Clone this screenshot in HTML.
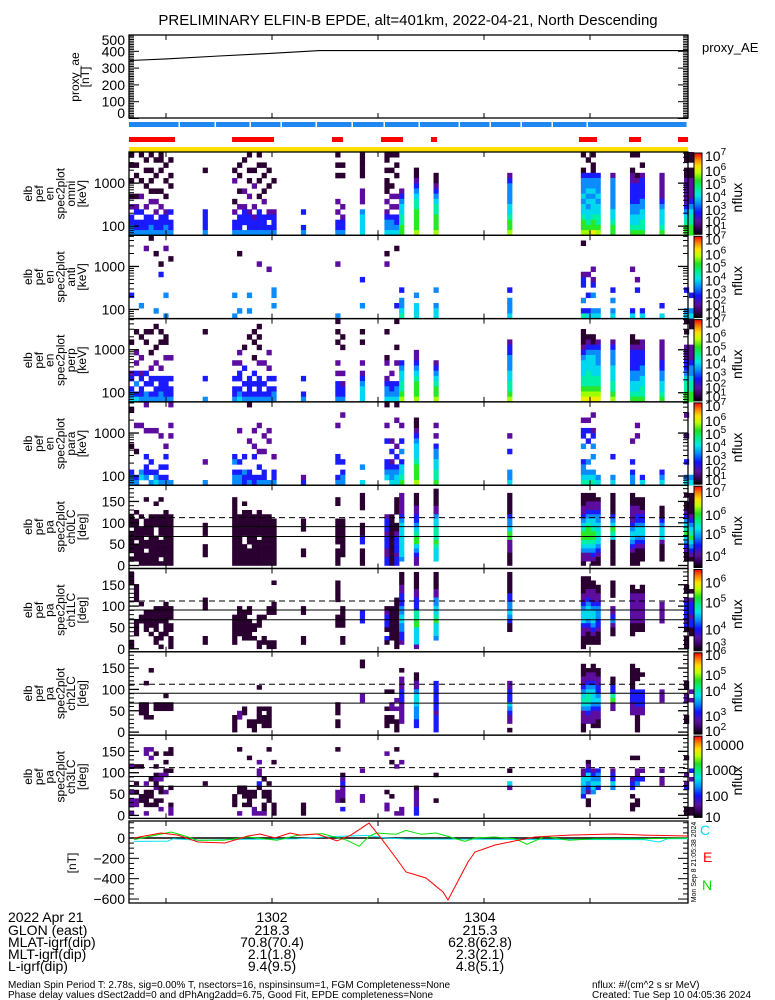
<!DOCTYPE html>
<html>
<head>
<meta charset="utf-8">
<style>
html,body{margin:0;padding:0;background:#fff;}
svg{display:block;}
text{font-family:"Liberation Sans",sans-serif;}
</style>
</head>
<body>
<svg id="chart" width="775" height="1000" viewBox="0 0 775 1000" xmlns="http://www.w3.org/2000/svg">
<defs>
<linearGradient id="cbar" x1="0" y1="1" x2="0" y2="0">
<stop offset="0" stop-color="#000000"/>
<stop offset="0.08" stop-color="#3a0060"/>
<stop offset="0.16" stop-color="#5a10a0"/>
<stop offset="0.27" stop-color="#1010ff"/>
<stop offset="0.38" stop-color="#0090ff"/>
<stop offset="0.48" stop-color="#00e8e8"/>
<stop offset="0.58" stop-color="#00f080"/>
<stop offset="0.66" stop-color="#20e020"/>
<stop offset="0.76" stop-color="#c0ff00"/>
<stop offset="0.84" stop-color="#ffe000"/>
<stop offset="0.92" stop-color="#ff8000"/>
<stop offset="1" stop-color="#ff0000"/>
</linearGradient>
</defs>
<text x="408" y="25" font-size="15" text-anchor="middle" fill="#000">PRELIMINARY ELFIN-B EPDE, alt=401km, 2022-04-21, North Descending</text>
</svg>
<script>
// ---------- data ----------
const aeTimes = [0.66, 1.0, 1.5, 2.0, 2.45, 5.93];
const aeValues = [345, 355, 372, 388, 404, 404];
const aeTicks = [0, 100, 200, 300, 400, 500];

const blueBarEdges = [0.651,1.132,1.472,1.802,2.094,2.425,2.764,3.066,3.396,3.774,4.066,4.358,4.651,4.981,5.925];
const redBarStarts = [0.651,1.623,2.566,3.028,3.500,4.896,5.368,5.830];
const redBarEnds = [1.085,2.019,2.670,3.236,3.557,5.066,5.481,5.925];

const timeTicks = [1,2,3,4,5];
const timeLabels = ["1302","1304"];
const timeLabelTimes = [2,4];

const magTicks = [0,-200,-400,-600];
const magETimes = [0.698,0.953,1.113,1.302,1.557,1.774,1.887,2.028,2.170,2.264,2.425,2.613,2.745,2.915,3.028,3.170,3.264,3.453,3.613,3.660,3.849,3.915,4.104,4.292,4.481,4.802,5.226,5.509,5.925];
const magEValues = [0,49,29,-39,-49,20,39,0,49,29,39,-29,29,147,0,-197,-334,-393,-531,-610,-236,-138,-69,-29,10,29,39,29,20];
const magNTimes = [0.698,1.047,1.160,1.302,1.538,1.774,2.047,2.236,2.472,2.708,2.821,2.915,2.981,3.170,3.264,3.406,3.547,3.679,3.821,3.915,4.104,4.292,4.406,4.575,4.802,5.038,5.509,5.925];
const magNValues = [-16,59,26,-23,-23,10,-23,26,43,-23,-82,16,49,36,75,36,49,10,-33,0,10,-7,-62,16,-23,-7,-7,0];
const magCTimes = [0.698,1.019,1.066,1.302,1.774,2.236,2.613,2.896,3.075,3.264,4.104,5.509,5.651,5.736,5.925];
const magCValues = [-33,-30,-7,-23,-13,-7,16,26,0,-10,-13,-16,-39,-7,-7];

const colT0 = 0.651;
const colDt = 2.78/60;

const omniCols = [0,1,2,3,4,5,6,7,8,15,21,22,23,24,25,26,27,28,29,35,42,43,47,52,53,54,55,58,62,77,92,93,94,95,98,102,103,104,108,113,114];
const omniVals = ["0.0..0..0.1.2233","..0.0...0.12.223","0....0..1..2.223",".0.0..0...1.2223","0..0.0.0.1..2233",".0..0..0.1.1.223","00.0...0..1.2223","..0..0..0..12233",".0..0.0....2.223","...0.......22223","...0.1...0.1.223","..0.0..0..1.2223",".0.....1..1222.3","0..0.0..1..12223","...0..1...1.1223","0.0..0..0..22223","..0.0..0.1..2223","...0..0....12.23",".....0.....12223","...........2..23","0.0.0....1.1.223","..0.0.....1.1223","00000..111.34444","00.0.000.1.12334","0..0..0.1.1.2334","0.0.0...1.1.2234",".......123445566","...0012345566667","....001234556667","....123333445667","0..0233343445667",".0..233434344567","0.00233434445668","....233343445567","....133333344566","0..0112222334456","0...012222334456","..0.122223344556","....111112344456","00.0011111234566","00.0011112345566"];

const antiCols = [0,2,3,4,5,6,7,8,21,22,24,26,28,29,42,47,52,54,55,58,62,77,92,93,94,95,98,102,103,104,108,113,114];
const antiVals = ["...........2....",".............3..","..1.............","0...............","...0..........3.",".....0.2........","..1........3...3","....0...........","...........3...3","...0..........3.","...........3..3.",".....1..........","......1.........","..........33.3..",".....1.........3","........2....3..","...0.1..........","..0..........2..","..........2.3345","...........3.444","..........3..344","..........2.3334",".0.....122..3.25",".......1...2..24","......1.12.3..34","..............34","..........2.3.34","......1.......24","........1.2.....","..............24",".............2.4","..........2...34","...........2..34"];

const perpCols = [0,1,2,3,4,5,6,7,8,15,21,22,23,24,25,26,27,28,29,35,42,43,47,52,53,54,55,58,62,77,92,93,94,95,98,102,103,104,108,113,114];
const perpVals = ["....0.....12.234","..0...1.1.2.3.24","...0...1..12.223","..0.0.....2.2.33","..0...0..1.22.23",".0...0..1..2.223","..0.0....1.22233","...00..1...22223",".......1...2.223","..0........2...3","........1..2.223","......1.1.22.234",".....0...2..2.23","...0.......22223","..0.0..0..2.2.23",".0.0.0..1..22223","........1...2.23","......1..1.2.223","...........2.233","...........2..23","0.0.0...1.1.2223","...0.0....1.1223","..0.0...1.123444","..0....01..12334","..........1.2234","0....0..1...2334","........23445567","......1123456667","........12345667","....122333445567","..00012344455678","...0123444555678","...0023444455678","....123334455678","....123334445567","...0012222334456","....012222334456","....112223344556","....111122334456","0.0..11122345566","00...11123345566"];

const paraCols = [0,1,2,3,4,5,6,7,8,15,21,22,23,24,25,26,27,28,29,35,42,43,47,52,53,54,55,58,62,77,92,93,94,95,98,102,103,104,108,113,114];
const paraVals = [".0......0....233","....1....0....23","....1........34.","1....1....2.223.",".....1.....2.2.3",".....1.......234","......1.....2.23","........1.2.2.23","1...1.1........3","...........1...3","..........23.233",".....1.....2.233","..........2..322","0......1.....223",".....1..1.2...22","....1....1..2.23","......1..1...223",".....1.1.......3","..........1..223","..............12","....1.....22..23","..1........2.233","............3..4","0...1..2...2234.",".......1.2.12334","0..1....1.2.2344","....1..2.3.24456","...0012344456667","....1.1.23344556","......1..2...334","...1.22.3..23345","...1.2.2...3.345","..1..12.3.3..345","..............34","..........2...34",".......1...2.233","....1.1.........","..............24",".............234","..1...1....2..34","..............34"];

const ch0Cols = [0,1,2,3,4,5,6,7,8,15,21,22,23,24,25,26,27,28,29,35,42,43,47,52,53,54,55,58,62,77,92,93,94,95,98,102,103,104,108,113,114];
const ch0Vals = ["......000.00000.0.",".....0.00000.0000.","......0..000000000","..0....0000.00.000","......000000000000","...0..000..0000000","..0...00000.0000.0",".....0000000000000","......000000000000","........000..000..","..0000000000000000","......000000000000","...0.000000..00000",".....00000000.0000","......000000000000",".....000000.000000","......000000000000","......000000000000",".......00000000000",".......000....00..","..00...000000.0000",".......000000000..",".0000...00022.0000","......122212221122","......000000000000","..0000..0012222122",".1111123444444443.",".00011223456643211","00001134455565444.",".00000233466111000",".00011234566543110",".0011234566654311.",".00112344566543210","..0112334454432100",".00000234654000000",".00011112344321000","..0011223443210000","..000122344321000.","....0002344410000.",".0.00123456432100.",".0000012345643210."];

const ch1Cols = [0,1,2,3,4,5,6,7,8,15,21,22,23,24,25,26,27,28,29,35,42,43,47,52,53,54,55,58,62,77,92,93,94,95,98,102,103,104,108,113,114];
const ch1Vals = ["000.............00","...0000....0000...",".......0..00......",".........00000....",".........0000.0...","........000000.00.","........0000..00.0",".......00000000...","........000.00.000","......000......00.","..........0000000.","........0000000...",".........0000000..","........00.00000..","............00.0..","..........000...00","..........0....00.","........00......00","..0....000......00","........00.....00.","..00000...000.....","........00000..00.",".........222......","........012220.20.","........00000000..","......000000000000","00011222334433221.","000011222556644441","0000113344564443..","00000223343200....",".00001123444211000",".0001123444321000.","..001112344432100.","...00112333221000.","..0000..1123100...","...001111111000...","....0111111100....","...00111111100....",".......11111......","...00.12222120.000","....0.122212200..."];

const ch2Cols = [2,3,4,5,6,7,8,21,22,23,24,25,26,27,28,42,47,52,53,54,55,58,62,77,92,93,94,95,98,102,103,104,108,113,114];
const ch2Vals = ["...........000....","......0....0000...","...0..........0...","...........00.....","...........00.....",".........0.00.....","...........00.....","..............0000",".............11...","............00....","...............00.","...............000",".......0....0000..","............0.000.","............00000.","...........000.00.",".00......11.......","........0...0.000.","........0..11.00..","..........1.1..000","...0.11122211111..","....0011344433322.","......222222212222","......1122243211.0","..0001123454311100","...0112345543211..","..001123444321110.","...00112234321100.",".....00225611.....","..000000222111....","...000..2222110000","....0...222211....","........111.......","......00.11...00..","........1.1......."];

const ch3Cols = [0,1,2,3,4,5,6,7,8,15,21,22,23,24,25,26,27,28,29,35,42,43,47,52,53,54,55,58,62,77,92,93,94,95,98,102,103,104,108,113,114];
const ch3Vals = ["......1.....1.11.1","......0...0.0.11..","......0......00...","..11......1.0000.1","..1.1....0..00.0..","...0..0.0101..00..","........11.00.0.1.","...0.0.01...1.....","..00...0...0...011","..........0.......",".............000..","..0........00....1","...........000.0..","....0.......0000..","............00..11",".....1.11.20.....1",".........0..00.001","..0.......0.000...",".....0.........000","...............000","..0.........111...","........0121110.2.",".......1.....11...","...1........0..11.",".....0.......0....","..0...1..........1",".....1..........11","...........0111122","........0.....0...",".......0..41......",".......1144332....",".....01244321.00..",".......123443.....",".......23342......",".......12243......","....0....122.0.00.","....0..1123...00..",".......1.2........",".......1.11.......","....0...1.12....00",".......2.1......00"];

const palette = ['#2a0030','#5c0c9e','#1a1aff','#0a8cff','#00d8ee','#00f0a8','#28e828','#a0ff00','#f0f000'];

// ---------- helpers ----------
const NS = 'http://www.w3.org/2000/svg';
const svg = document.getElementById('chart');
const X0 = 129, X1 = 688;
function xT(t){ return 272 + (t - 2) * 106; }
function mk(tag, attrs, parent){
  const el = document.createElementNS(NS, tag);
  for (const k in attrs) el.setAttribute(k, attrs[k]);
  (parent || svg).appendChild(el);
  return el;
}
function nm(el, name){
  
  
  return el;
}
function line(x1,y1,x2,y2,name,sw,dash){
  const el = mk('line',{x1:x1,y1:y1,x2:x2,y2:y2,stroke:'#000','stroke-width':sw||1,'stroke-dasharray':dash||'none'});
  nm(el, name);
  return el;
}
function txt(x,y,s,name,size,anchor,fill){
  const el = mk('text',{x:x,y:y,'font-size':size||13,'text-anchor':anchor||'end',fill:fill||'#000'});
  el.textContent = s;
  nm(el, name);
  return el;
}
function rotLabel(lines, x0, dx, yc, name){
  const g = mk('g',{});
  nm(g, name);
  lines.forEach(function(s,k){
    const x = x0 + k*dx;
    const el = mk('text',{x:x,y:yc,'font-size':12,'text-anchor':'middle',fill:'#000',transform:'rotate(-90 '+x+' '+yc+')'},g);
    el.textContent = s;
    nm(el, name + '-line');
  });
}
function timeTickMarks(top, bot, name){
  timeTicks.forEach(function(t){
    const x = xT(t);
    line(x, top, x, top+5, name+'-top-tick', 1);
    line(x, bot-5, x, bot, name+'-bottom-tick', 1);
  });
}

// ---------- proxy AE panel ----------
const aeTop = 35, aeBot = 118;
function yAE(v){ return 118.5 - v*0.168; }
const aeFrame = mk('rect',{x:X0,y:aeTop,width:X1-X0,height:aeBot-aeTop,fill:'none',stroke:'#000','stroke-width':1.3});
nm(aeFrame,'proxy-ae-panel-frame');
for (let v=0; v<=490; v+=10){
  const y = yAE(v);
  const len = (v%100===0)?10:5;
  line(X0,y,X0+len,y,'proxy-ae-left-tick',1);
  line(X1-len,y,X1,y,'proxy-ae-right-tick',1);
}
aeTicks.forEach(function(v){
  const y = Math.max(40, Math.min(113, yAE(v)));
  txt(125, y+5, String(v), 'proxy-ae-tick-label', 14, 'end');
});
timeTickMarks(aeTop, aeBot, 'proxy-ae');
let aePts = aeTimes.map(function(t,i){ return xT(t).toFixed(1)+','+yAE(aeValues[i]).toFixed(1); }).join(' ');
const aeLine = mk('polyline',{points:aePts,fill:'none',stroke:'#000','stroke-width':1.1});
nm(aeLine,'proxy-ae-line');
rotLabel(['proxy_ae','[nT]'], 79, 10, 77, 'proxy-ae-axis-title');
txt(702, 52, 'proxy_AE', 'proxy-ae-legend', 13, 'start');

// ---------- status bars ----------
for (let i=0;i<blueBarEdges.length-1;i++){
  const x1 = xT(blueBarEdges[i]), x2 = xT(blueBarEdges[i+1]);
  const r = mk('rect',{x:x1,y:122,width:Math.max(1,x2-x1-1.5),height:5,fill:'#1e88f0'});
  nm(r,'fgm-status-bar-segment');
}
redBarStarts.forEach(function(t,i){
  const x1 = xT(t), x2 = xT(redBarEnds[i]);
  const r = mk('rect',{x:x1,y:137,width:x2-x1,height:5,fill:'#ff0000'});
  nm(r,'epde-status-bar-segment');
});
const yb = mk('rect',{x:X0,y:147,width:X1-X0,height:5,fill:'#ffdd00'});
nm(yb,'science-zone-bar');

// ---------- spectrogram panels ----------
const PH = 83.3;
const panelTops = [152, 235.3, 318.6, 401.9, 485.2, 568.5, 651.8, 735.1];
const cbLabelsLog = [[7,3],[6,18],[5,31],[4,44],[3,57],[2,68],[1,77]];

function drawCells(top, height, cols, vals, name){
  const g = mk('g',{});
  nm(g, name+'-cells');
  cols.forEach(function(ci,k){
    const s = vals[k];
    const n = s.length;
    const rh = height/n;
    const x = xT(colT0 + ci*colDt);
    const w = 106*colDt;
    for (let r=0;r<n;r++){
      const c = s[r];
      if (c === '.') continue;
      const rect = mk('rect',{x:x.toFixed(2),y:(top+r*rh).toFixed(2),width:(w+0.3).toFixed(2),height:(rh+0.3).toFixed(2),fill:palette[parseInt(c,10)]},g);
      nm(rect, name+'-cell');
    }
  });
}
function colorbar(top, labels, name, plainLabels){
  const r = mk('rect',{x:694,y:top+1,width:8,height:PH-2,fill:'url(#cbar)',stroke:'#000','stroke-width':1});
  nm(r, name+'-colorbar');
  labels.forEach(function(L){
    const y = top + L[1] + 6;
    if (plainLabels){
      txt(705, y, String(L[0]), name+'-colorbar-label', 14, 'start');
    } else {
      const el = mk('text',{x:705,y:y,'font-size':14,'text-anchor':'start',fill:'#000'});
      nm(el, name+'-colorbar-label');
      el.appendChild(document.createTextNode('10'));
      const sup = mk('tspan',{dy:-6,'font-size':10},el);
      nm(sup, name+'-colorbar-exponent');
      sup.textContent = String(L[0]);
    }
  });
  const yc = top + PH/2 + 4;
  const nf = mk('text',{x:742,y:yc,'font-size':14,'text-anchor':'middle',fill:'#000',transform:'rotate(-90 742 '+yc+')'});
  nm(nf, name+'-colorbar-title');
  nf.textContent = 'nflux';
}
function energyPanel(idx, cols, vals, tag){
  const top = panelTops[idx], bot = top + PH;
  const name = 'energy-spectrogram-' + tag;
  drawCells(top, PH, cols, vals, name);
  const fr = mk('rect',{x:X0,y:top,width:X1-X0,height:PH,fill:'none',stroke:'#000','stroke-width':1.3});
  nm(fr, name+'-frame');
  function yE(e){ return top + (Math.log10(5300) - Math.log10(e))*43; }
  const minors = [60,70,80,90,200,300,400,500,600,700,800,900,2000,3000,4000,5000];
  minors.forEach(function(e){
    const y = yE(e);
    if (y < top || y > bot) return;
    line(X0,y,X0+5,y,name+'-minor-tick',1);
    line(X1-5,y,X1,y,name+'-minor-tick',1);
  });
  [100,1000].forEach(function(e){
    const y = yE(e);
    line(X0,y,X0+10,y,name+'-major-tick',1.3);
    line(X1-10,y,X1,y,name+'-major-tick',1.3);
    txt(125, y+5, String(e), name+'-tick-label', 14, 'end');
  });
  timeTickMarks(top, bot, name);
  rotLabel(['elb','pef','en','spec2plot',tag,'[keV]'], 32, 10.8, top+PH/2, name+'-axis-title');
  colorbar(top, cbLabelsLog, name, false);
}
const PAH = 180*0.427;
function paPanel(idx, cols, vals, tag, cbl, plain){
  const top = panelTops[idx], bot = top + PH;
  const name = 'pitch-angle-spectrogram-' + tag;
  drawCells(bot - 3 - PAH, PAH, cols, vals, name);
  const fr = mk('rect',{x:X0,y:top,width:X1-X0,height:PH,fill:'none',stroke:'#000','stroke-width':1.3});
  nm(fr, name+'-frame');
  function yP(p){ return bot - 3 - p*0.427; }
  for (let p=0;p<=180;p+=10){
    const y = yP(p);
    const major = (p%50===0);
    line(X0,y,X0+(major?10:5),y,name+'-tick',major?1.3:1);
    line(X1-(major?10:5),y,X1,y,name+'-tick',major?1.3:1);
  }
  [0,50,100,150].forEach(function(p){ txt(125, yP(p)+5, String(p), name+'-tick-label', 14, 'end'); });
  line(X0, yP(112), X1, yP(112), name+'-loss-cone-dashed', 1, '6,4');
  line(X0, yP(91), X1, yP(91), name+'-perp-line', 1);
  line(X0, yP(68), X1, yP(68), name+'-loss-cone-line', 1);
  timeTickMarks(top, bot, name);
  rotLabel(['elb','pef','pa','spec2plot',tag,'[deg]'], 32, 10.8, top+PH/2, name+'-axis-title');
  colorbar(top, cbl, name, plain);
}

energyPanel(0, omniCols, omniVals, 'omni');
energyPanel(1, antiCols, antiVals, 'anti');
energyPanel(2, perpCols, perpVals, 'perp');
energyPanel(3, paraCols, paraVals, 'para');
paPanel(4, ch0Cols, ch0Vals, 'ch0LC', [[7,6],[6,29],[5,48],[4,70]], false);
paPanel(5, ch1Cols, ch1Vals, 'ch1LC', [[6,13],[5,33],[4,60],[3,77]], false);
paPanel(6, ch2Cols, ch2Vals, 'ch2LC', [[6,2],[5,22],[4,38],[3,63],[2,78]], false);
paPanel(7, ch3Cols, ch3Vals, 'ch3LC', [[10000,9],[1000,34],[100,60],[10,81]], true);

// ---------- magnetometer panel ----------
const mTop = 821, mBot = 903;
function yM(v){ return 838 - v*0.1017; }
const mf = mk('rect',{x:X0,y:mTop,width:X1-X0,height:mBot-mTop,fill:'none',stroke:'#000','stroke-width':1.3});
nm(mf,'mag-panel-frame');
for (let v=-600; v<=150; v+=50){
  const y = yM(v);
  const major = (v%200===0);
  line(X0,y,X0+(major?10:5),y,'mag-tick',1);
  line(X1-(major?10:5),y,X1,y,'mag-tick',1);
}
magTicks.forEach(function(v){ txt(125, yM(v)+5, String(v).replace('-','\u2212'), 'mag-tick-label', 14, 'end'); });
timeTickMarks(mTop, mBot, 'mag');
line(X0, yM(0), X1, yM(0), 'mag-zero-line', 1.5);
function series(ts, vs, color, name){
  const pts = ts.map(function(t,i){ return xT(t).toFixed(1)+','+yM(vs[i]).toFixed(1); }).join(' ');
  const p = mk('polyline',{points:pts,fill:'none',stroke:color,'stroke-width':1});
  nm(p, name);
}
series(magCTimes, magCValues, '#00e0f0', 'mag-c-series');
series(magNTimes, magNValues, '#00e000', 'mag-n-series');
series(magETimes, magEValues, '#ff0000', 'mag-e-series');
rotLabel(['[nT]'], 76, 0, 863, 'mag-axis-title');
txt(700, 835, 'C', 'mag-legend-c', 14, 'start', '#00e0f0');
txt(703, 862, 'E', 'mag-legend-e', 14, 'start', '#ff0000');
txt(702, 890, 'N', 'mag-legend-n', 14, 'start', '#00e000');
const stamp = mk('text',{x:696,y:862,'font-size':7,'text-anchor':'middle',fill:'#000',transform:'rotate(-90 696 862)'});
nm(stamp,'mag-timestamp');
stamp.textContent = 'Mon Sep  8 21:05:38 2024';

// ---------- bottom annotation ----------
const rowLabels = ['2022 Apr 21','GLON (east)','MLAT-igrf(dip)','MLT-igrf(dip)','L-igrf(dip)'];
const rowY = [922, 935, 947, 959, 971];
const colA = ['1302','218.3','70.8(70.4)','2.1(1.8)','9.4(9.5)'];
const colB = ['1304','215.3','62.8(62.8)','2.3(2.1)','4.8(5.1)'];
rowLabels.forEach(function(s,i){
  txt(8, rowY[i], s, 'ephemeris-row-label', 14, 'start');
  txt(xT(timeLabelTimes[0]), rowY[i], colA[i], 'ephemeris-value-1302', 14, 'middle');
  txt(xT(timeLabelTimes[1])-4, rowY[i], colB[i], 'ephemeris-value-1304', 14, 'middle');
});
txt(8, 988, 'Median Spin Period T: 2.78s, sig=0.00% T, nsectors=16, nspinsinsum=1, FGM Completeness=None', 'footer-spin-info', 10, 'start');
txt(8, 998, 'Phase delay values dSect2add=0 and dPhAng2add=6.75, Good Fit, EPDE completeness=None', 'footer-phase-info', 10, 'start');
txt(592, 988, 'nflux: #/(cm^2 s sr MeV)', 'footer-units', 10, 'start');
txt(592, 998, 'Created: Tue Sep 10 04:05:36 2024', 'footer-created', 10, 'start');
</script>
</body>
</html>
